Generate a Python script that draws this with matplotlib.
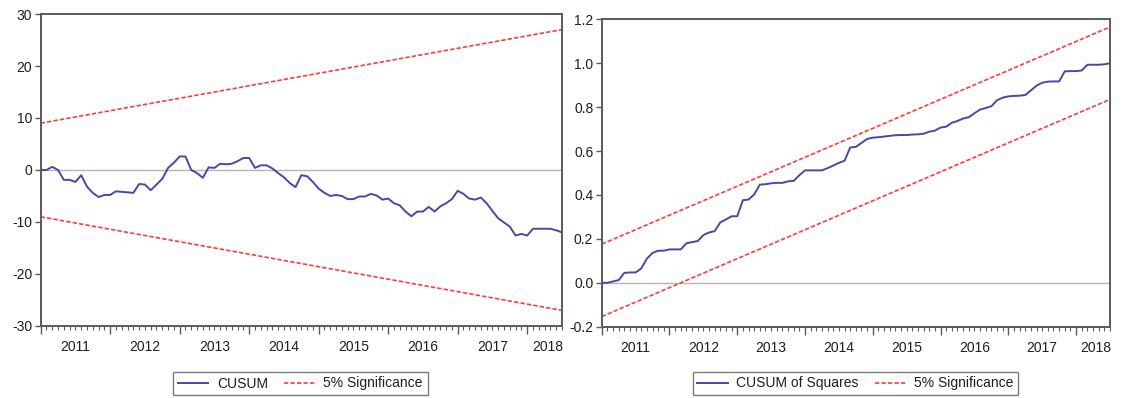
import numpy as np
import matplotlib
matplotlib.use("Agg")
import matplotlib.pyplot as plt
from matplotlib.ticker import MultipleLocator, FixedLocator, NullFormatter
import matplotlib.transforms as mtransforms

plt.rcParams['font.family'] = ['Liberation Sans', 'DejaVu Sans']
plt.rcParams['axes.unicode_minus'] = False

# ---------------- data ----------------
start_year = 2011          # first observation: 2011M01, monthly
years = [2011, 2012, 2013, 2014, 2015, 2016, 2017, 2018]

cusum = [0, 0, 0.6, 0, -1.9, -1.9, -2.3, -1.0, -3.2, -4.4,
         -5.2, -4.8, -4.8, -4.1, -4.2, -4.3, -4.4, -2.7, -2.8, -3.9,
         -2.8, -1.7, 0.4, 1.4, 2.6, 2.6, 0, -0.6, -1.5, 0.5,
         0.4, 1.2, 1.1, 1.2, 1.7, 2.3, 2.3, 0.4, 0.9, 0.9,
         0.3, -0.6, -1.4, -2.5, -3.3, -1.0, -1.2, -2.3, -3.6, -4.4,
         -5.0, -4.8, -5.0, -5.6, -5.6, -5.1, -5.1, -4.6, -4.9, -5.7,
         -5.5, -6.4, -6.8, -8.0, -8.9, -8.0, -8.0, -7.1, -8.0, -7.0,
         -6.4, -5.6, -4.0, -4.6, -5.5, -5.7, -5.3, -6.4, -7.9, -9.3,
         -10.1, -10.9, -12.6, -12.3, -12.6, -11.3, -11.3, -11.3, -11.3, -11.6,
         -12.0]
cusum_upper = [9.0, 27.0]      # at first / last observation
cusum_lower = [-9.0, -27.0]

cusumsq = [0, 0.0, 0.006, 0.012, 0.045, 0.047, 0.047, 0.065, 0.11, 0.136,
           0.146, 0.146, 0.152, 0.152, 0.152, 0.18, 0.185, 0.19, 0.217, 0.229,
           0.235, 0.275, 0.288, 0.303, 0.303, 0.376, 0.379, 0.402, 0.447, 0.449,
           0.453, 0.455, 0.455, 0.462, 0.464, 0.49, 0.512, 0.512, 0.512, 0.512,
           0.522, 0.534, 0.546, 0.556, 0.616, 0.619, 0.637, 0.655, 0.661, 0.663,
           0.666, 0.669, 0.672, 0.673, 0.673, 0.675, 0.676, 0.679, 0.688, 0.693,
           0.707, 0.711, 0.729, 0.737, 0.748, 0.754, 0.772, 0.789, 0.796, 0.804,
           0.831, 0.843, 0.849, 0.851, 0.852, 0.855, 0.876, 0.898, 0.911, 0.916,
           0.917, 0.917, 0.963, 0.964, 0.964, 0.967, 0.993, 0.993, 0.993, 0.995,
           1.0]
cusumsq_upper = [0.176, 1.165]
cusumsq_lower = [-0.154, 0.835]

# ---------------- style ----------------
BLUE = '#4848a6'
RED = '#ff3a3a'
FRAME = '#5a5a5a'
TXT = '#1e1e1e'
DASH = (0, (2.6, 1.3))

n = len(cusum)
x = start_year + np.arange(n) / 12.0
x_ends = [x[0], x[-1]]

fig = plt.figure(figsize=(11.23, 3.98), dpi=100)
axL = fig.add_axes([0.0362, 0.181, 0.5004 - 0.0362, 0.9648 - 0.181])
axR = fig.add_axes([0.5358, 0.1792, 0.9884 - 0.5358, 0.9515 - 0.1792])


def style_axis(ax, ylim, ystep, fmt):
    ax.set_xlim(x[0], x[-1])
    ax.set_ylim(*ylim)
    ax.axhline(0, color='#b4b4b4', lw=1.0, zorder=1)
    for s in ax.spines.values():
        s.set_color(FRAME)
        s.set_linewidth(1.4)
    ax.yaxis.set_major_locator(MultipleLocator(ystep))
    ax.yaxis.set_major_formatter(plt.FuncFormatter(lambda v, p: fmt.format(v)))
    ax.tick_params(axis='y', direction='out', length=4, width=1.0, color=FRAME,
                   labelsize=10, labelcolor=TXT, pad=2)
    # year ticks (major, long) and month ticks (minor, short)
    ax.xaxis.set_major_locator(FixedLocator([float(y) for y in years]))
    ax.xaxis.set_minor_locator(FixedLocator(list(x)))
    ax.xaxis.set_major_formatter(NullFormatter())
    ax.tick_params(axis='x', which='major', direction='out', length=6, width=1.0, color=FRAME)
    ax.tick_params(axis='x', which='minor', direction='out', length=3, width=0.8, color=FRAME)
    trans = mtransforms.blended_transform_factory(ax.transData, ax.transAxes)
    for yr in years:
        right = min(yr + 1, x[-1])
        cx = (yr + right) / 2.0
        if yr == years[-1]:
            cx += 0.04
        ax.text(cx, -0.045, str(yr), transform=trans, ha='center', va='top',
                fontsize=10, color=TXT)


# Left: CUSUM
style_axis(axL, (-30, 30), 10, '{:.0f}')
lc, = axL.plot(x, cusum, color=BLUE, lw=1.4, zorder=3, label='CUSUM')
ls, = axL.plot(x_ends, cusum_upper, color=RED, lw=1.2, ls=DASH, zorder=2,
               label='5% Significance')
axL.plot(x_ends, cusum_lower, color=RED, lw=1.2, ls=DASH, zorder=2)

# Right: CUSUM of squares
style_axis(axR, (-0.2, 1.2), 0.2, '{:.1f}')
rc, = axR.plot(x, cusumsq, color=BLUE, lw=1.4, zorder=3, label='CUSUM of Squares')
rs, = axR.plot(x_ends, cusumsq_upper, color=RED, lw=1.2, ls=DASH, zorder=2,
               label='5% Significance')
axR.plot(x_ends, cusumsq_lower, color=RED, lw=1.2, ls=DASH, zorder=2)

# Legends
W, H = 1123.0, 398.0
for handles, (x0, x1) in [([lc, ls], (172.7, 428.0)), ([rc, rs], (696.0, 1015.0))]:
    cx = (x0 + x1) / 2.0 / W
    cy = 1 - 383.5 / H
    leg = fig.legend(handles=handles, loc='center', bbox_to_anchor=(cx, cy),
                     ncol=2, fontsize=10, frameon=True, fancybox=False,
                     edgecolor=FRAME, handlelength=2.2, handletextpad=0.6,
                     columnspacing=1.2, borderpad=0.35, labelcolor=TXT)
    leg.get_frame().set_linewidth(1.0)

fig.savefig('out.png', dpi=100)
